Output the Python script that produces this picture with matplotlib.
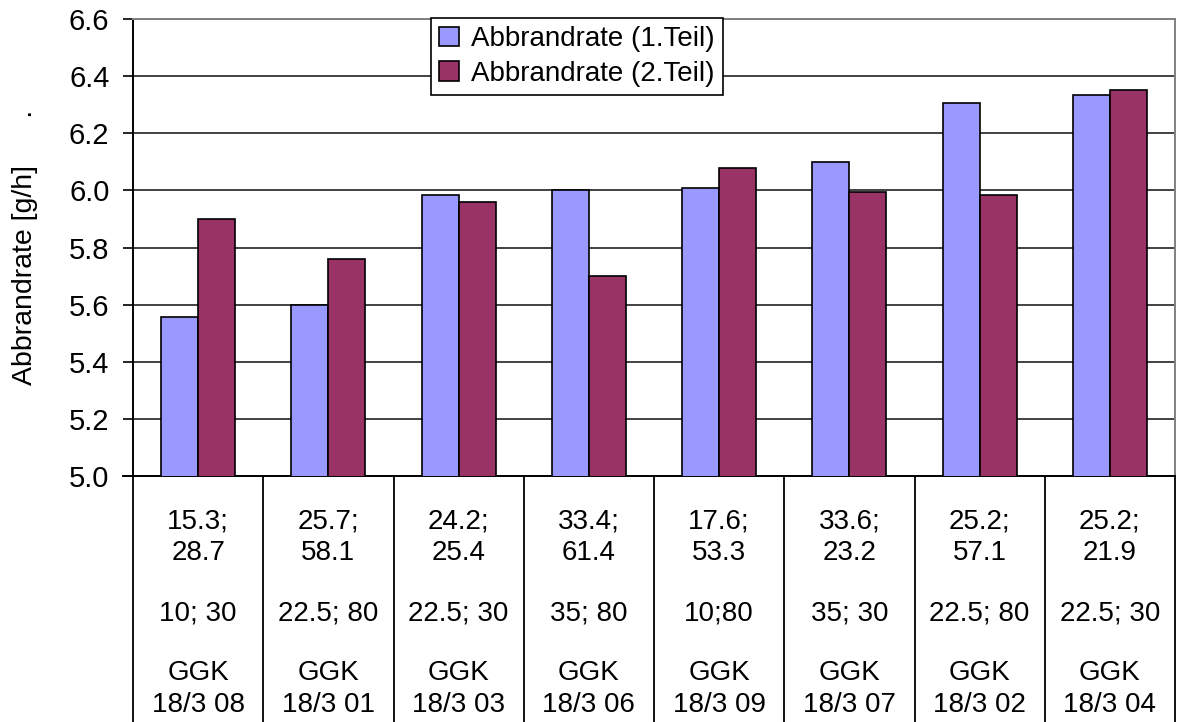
import matplotlib
matplotlib.use("Agg")
import matplotlib.pyplot as plt
import matplotlib.transforms as mtransforms
import numpy as np

plt.rcParams['font.family'] = ['Liberation Sans', 'DejaVu Sans']

# Abbrandrate je Versuch, erster und zweiter Teil
teil1 = [5.556, 5.60, 5.985, 6.00, 6.01, 6.10, 6.305, 6.335]
teil2 = [5.90, 5.76, 5.96, 5.70, 6.08, 5.995, 5.985, 6.35]

# Beschriftung unter jeder Gruppe
werte = ["15.3;\n28.7", "25.7;\n58.1", "24.2;\n25.4", "33.4;\n61.4",
         "17.6;\n53.3", "33.6;\n23.2", "25.2;\n57.1", "25.2;\n21.9"]
parameter = ["10; 30", "22.5; 80", "22.5; 30", "35; 80",
             "10;80", "35; 30", "22.5; 80", "22.5; 30"]
versuche = ["GGK\n18/3 08", "GGK\n18/3 01", "GGK\n18/3 03", "GGK\n18/3 06",
            "GGK\n18/3 09", "GGK\n18/3 07", "GGK\n18/3 02", "GGK\n18/3 04"]

W, H = 1177, 722
fig = plt.figure(figsize=(W / 100, H / 100), dpi=100)
ax = fig.add_axes([133 / W, (H - 476) / H, (1175 - 133) / W, (476 - 19) / H])

x = np.arange(len(teil1))
bw = 0.285
ax.bar(x - bw / 2, teil1, bw, color='#9999FF', edgecolor='black',
       linewidth=1.2, label='Abbrandrate (1.Teil)', zorder=3)
ax.bar(x + bw / 2, teil2, bw, color='#993366', edgecolor='black',
       linewidth=1.2, label='Abbrandrate (2.Teil)', zorder=3)

ax.set_ylim(5.0, 6.6)
ax.set_xlim(-0.5, len(teil1) - 0.5)
ticks = np.arange(5.0, 6.61, 0.2)
ax.set_yticks(ticks)
ax.set_yticklabels([f"{v:.1f}" for v in ticks])
ax.tick_params(axis='y', length=7, width=1.2, pad=10, labelsize=21)
ax.set_xticks([])
ax.yaxis.grid(True, color='#222222', linewidth=1.2, zorder=0)
ax.set_axisbelow(True)

for s in ['left', 'bottom']:
    ax.spines[s].set_color('black')
    ax.spines[s].set_linewidth(1.4)
for s in ['top', 'right']:
    ax.spines[s].set_color('#808080')
    ax.spines[s].set_linewidth(1.4)

ax.set_ylabel("Abbrandrate [g/h]      .", fontsize=20.5, labelpad=22)

# Tabelle unter der Achse: Trennlinien und Texte
trans = mtransforms.blended_transform_factory(ax.transData, ax.transAxes)
depth = 250 / 457
for b in np.arange(-0.5, len(teil1), 1.0):
    ax.plot([b, b], [0, -depth], transform=trans, color='black',
            linewidth=1.3, clip_on=False)
ax.plot([-0.5, -0.58], [0, 0], transform=trans, color='black',
        linewidth=1.4, clip_on=False)

for i in range(len(teil1)):
    ax.annotate(werte[i], xy=(i, 0), xycoords=trans, xytext=(0, -61),
                textcoords='offset pixels', ha='center', va='center',
                fontsize=20, linespacing=1.3)
    ax.annotate(parameter[i], xy=(i, 0), xycoords=trans, xytext=(0, -137),
                textcoords='offset pixels', ha='center', va='center',
                fontsize=20)
    ax.annotate(versuche[i], xy=(i, 0), xycoords=trans, xytext=(0, -213),
                textcoords='offset pixels', ha='center', va='center',
                fontsize=20, linespacing=1.3)

leg = ax.legend(loc='upper left', bbox_to_anchor=(431 / W, 1 - 18 / H),
                bbox_transform=fig.transFigure, borderaxespad=0, fontsize=20,
                fancybox=False, framealpha=1, edgecolor='black',
                handlelength=0.7, handleheight=0.7, handletextpad=0.45,
                borderpad=0.3, labelspacing=0.3)
leg.get_frame().set_linewidth(1.2)
leg.set_zorder(5)

fig.savefig("out.png", dpi=100, facecolor='white')
